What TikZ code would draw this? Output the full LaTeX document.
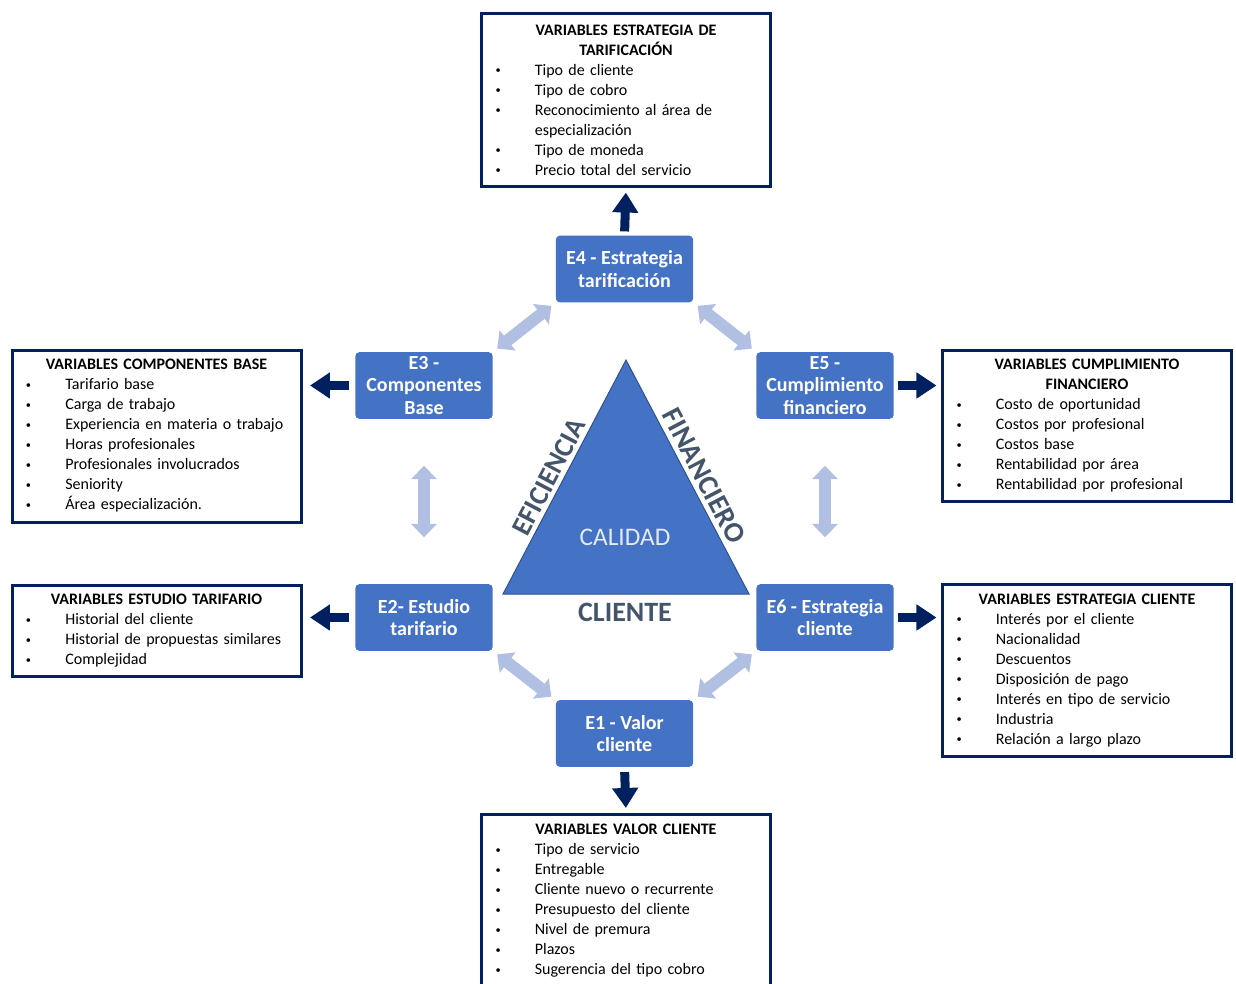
\documentclass[tikz,border=0pt]{standalone}
\usepackage{fontspec}
\setmainfont{Carlito}
\usetikzlibrary{arrows.meta}
\definecolor{eblue}{RGB}{68,114,196}
\definecolor{navy}{RGB}{0,32,96}
\definecolor{paleblue}{RGB}{176,191,226}
\definecolor{slate}{RGB}{68,84,106}
\definecolor{triedge}{RGB}{47,82,143}
\definecolor{calwhite}{RGB}{228,234,246}
\setlength{\parindent}{0pt}
\newcommand{\vhead}[1]{{\centering\bfseries #1\par}}
\newcommand{\vitem}[1]{\par\noindent\makebox[30pt][l]{\hspace*{0.5pt}\raisebox{1.2pt}{\scalebox{0.65}{\textbullet}}}#1}
\newcommand{\vmore}[1]{\par\noindent\hspace*{30pt}#1}
\begin{document}
\begin{tikzpicture}[x=0.75pt,y=-0.75pt,
  varbox/.style={draw=navy,line width=2.25pt,fill=white,text width=196.75pt,inner xsep=10pt,inner ysep=0pt,font=\fontsize{12pt}{15pt}\selectfont,align=left},
  stage/.style={fill=eblue,rounded corners=3pt,text=white,font=\fontsize{15pt}{16.75pt}\selectfont\bfseries,align=center,minimum width=103pt,minimum height=50pt,inner sep=2pt},
  darrow/.style={navy,line width=6.75pt,-{Triangle[width=18.75pt,length=15pt]}},
  larrow/.style={paleblue,line width=9pt,{Triangle[width=18.75pt,length=10pt]}-{Triangle[width=18.75pt,length=10pt]}}]
\useasboundingbox (0,0) rectangle (1236,983);
\node[varbox,minimum height=129.75pt] (vtar) at (626,100) {\vhead{VARIABLES ESTRATEGIA DE\\TARIFICACIÓN}\vitem{Tipo de cliente}\vitem{Tipo de cobro}\vitem{Reconocimiento al área de}\vmore{especialización}\vitem{Tipo de moneda}\vitem{Precio total del servicio}};
\node[varbox,minimum height=129pt] (vcomp) at (156.5,436) {\vhead{VARIABLES COMPONENTES BASE}\vitem{Tarifario base}\vitem{Carga de trabajo}\vitem{Experiencia en materia o trabajo}\vitem{Horas profesionales}\vitem{Profesionales involucrados}\vitem{Seniority}\vitem{Área especialización.}};
\node[varbox,minimum height=68.25pt] (vest) at (156.5,631) {\vhead{VARIABLES ESTUDIO TARIFARIO}\vitem{Historial del cliente}\vitem{Historial de propuestas similares}\vitem{Complejidad}};
\node[varbox,minimum height=113.25pt] (vfin) at (1087,426) {\vhead{VARIABLES CUMPLIMIENTO\\FINANCIERO}\vitem{Costo de oportunidad}\vitem{Costos por profesional}\vitem{Costos base}\vitem{Rentabilidad por área}\vitem{Rentabilidad por profesional}};
\node[varbox,minimum height=129pt] (vcli) at (1087,670.5) {\vhead{VARIABLES ESTRATEGIA CLIENTE}\vitem{Interés por el cliente}\vitem{Nacionalidad}\vitem{Descuentos}\vitem{Disposición de pago}\vitem{Interés en tipo de servicio}\vitem{Industria}\vitem{Relación a largo plazo}};
\node[varbox,minimum height=130.5pt] (vval) at (626,901) {\vhead{VARIABLES VALOR CLIENTE}\vitem{Tipo de servicio}\vitem{Entregable}\vitem{Cliente nuevo o recurrente}\vitem{Presupuesto del cliente}\vitem{Nivel de premura}\vitem{Plazos}\vitem{Sugerencia del tipo cobro}};
\node[stage] (e4) at (624.5,269) {E4 - Estrategia\\tarificación};
\node[stage] (e3) at (424,385.5) {E3 -\\Componentes\\Base};
\node[stage] (e5) at (825,385.5) {E5 -\\Cumplimiento\\financiero};
\node[stage] (e2) at (424,617.5) {E2- Estudio\\tarifario};
\node[stage] (e6) at (825,617.5) {E6 - Estrategia\\cliente};
\node[stage] (e1) at (624.5,733.5) {E1 - Valor\\cliente};
\draw[fill=eblue,draw=triedge,line width=0.75pt] (626,360) -- (749,594) -- (503,594) -- cycle;
\node[text=calwhite,font=\fontsize{19pt}{19pt}\selectfont] (calidad) at (625,537) {CALIDAD};
\node[text=slate,font=\fontsize{21pt}{21pt}\selectfont\bfseries] (cliente) at (625,612) {CLIENTE};
\node[text=slate,font=\fontsize{21pt}{21pt}\selectfont\bfseries,rotate=62.3] (efic) at (549,477) {EFICIENCIA};
\node[text=slate,font=\fontsize{21.5pt}{21.5pt}\selectfont\bfseries,rotate=-62.3] (finan) at (704,476) {FINANCIERO};
\draw[darrow,shorten <=3pt,shorten >=3.4pt] (e4.north) -- (vtar.south);
\draw[darrow,shorten <=3.75pt,shorten >=3.4pt] (e1.south) -- (vval.north);
\draw[darrow,shorten <=4.5pt,shorten >=5.6pt] (e3.west) -- (e3.west -| vcomp.east);
\draw[darrow,shorten <=4.5pt,shorten >=5.6pt] (e2.west) -- (e2.west -| vest.east);
\draw[darrow,shorten <=3pt,shorten >=3.4pt] (e5.east) -- (e5.east -| vfin.west);
\draw[darrow,shorten <=3pt,shorten >=3.4pt] (e6.east) -- (e6.east -| vcli.west);
\draw[larrow,shorten <=4pt,shorten >=4pt] (e4.south west) -- (e3.north east);
\draw[larrow,shorten <=4pt,shorten >=4pt] (e4.south east) -- (e5.north west);
\draw[larrow,shorten <=35pt,shorten >=35pt] (e3.south) -- (e2.north);
\draw[larrow,shorten <=35pt,shorten >=35pt] (e5.south) -- (e6.north);
\draw[larrow,shorten <=4pt,shorten >=4pt] (e2.south east) -- (e1.north west);
\draw[larrow,shorten <=4pt,shorten >=4pt] (e6.south west) -- (e1.north east);
\end{tikzpicture}
\end{document}
